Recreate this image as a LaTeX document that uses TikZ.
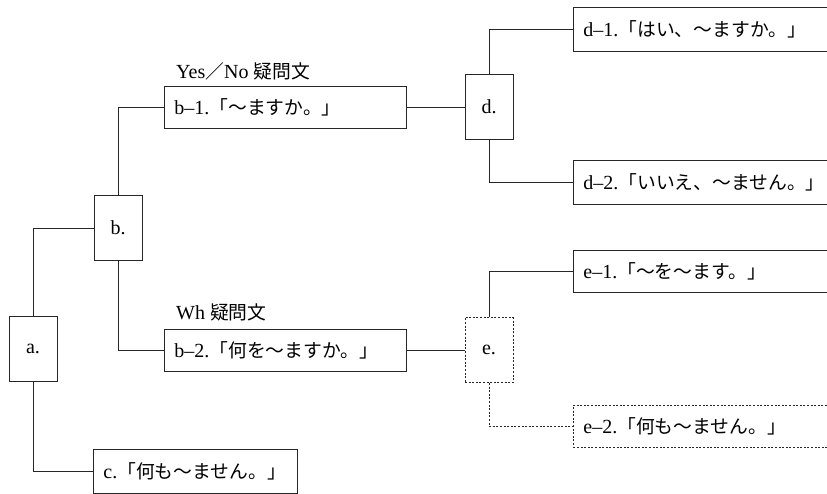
\documentclass[tikz,border=0pt]{standalone}
\usepackage{fontspec}
\setmainfont{Liberation Serif}
\newfontfamily\jp{Noto Sans CJK JP}
\newcommand{\J}[1]{{\jp\fontsize{18.8}{24}\selectfont #1}}
\begin{document}
\begin{tikzpicture}[x=1pt,y=-1pt,
  every node/.style={font=\fontsize{20}{24}\selectfont},
  ln/.style={draw=black!85,line width=0.8pt},
  dsh/.style={ln,dash pattern=on 2pt off 1.6pt},
  sbox/.style={ln,minimum width=48pt,minimum height=65pt,inner sep=0pt},
  wbox/.style={ln,anchor=west,minimum height=42pt,inner xsep=10pt,inner ysep=0pt,align=left},
  lbl/.style={anchor=west,inner sep=0pt}]
\useasboundingbox (0,0) rectangle (827,494);
\clip (0,0) rectangle (827,494);
\node[sbox] (a) at (33,348.5) {a.};
\node[sbox] (b) at (118,228) {b.};
\node[sbox] (d) at (489,107) {d.};
\node[sbox,dsh] (e) at (489,350) {e.};
\node[wbox,text width=222pt] (b1) at (164,107) {b–1.\J{「〜ますか。」}};
\node[wbox,text width=222pt] (b2) at (164,350) {b–2.\J{「何を〜ますか。」}};
\node[wbox,text width=184pt,minimum height=44pt] (c) at (93,471) {c.\J{「何も〜ません。」}};
\node[wbox,text width=300pt,minimum height=44pt] (d1) at (573,29) {d–1.\J{「はい、〜ますか。」}};
\node[wbox,text width=300pt,minimum height=44pt] (d2) at (573,182) {d–2.\J{「いいえ、〜ません。」}};
\node[wbox,text width=300pt] (e1) at (573,271.5) {e–1.\J{「〜を〜ます。」}};
\node[wbox,dsh,text width=300pt] (e2) at (573,426) {e–2.\J{「何も〜ません。」}};
\node[lbl] (lyes) at (176,71) {Yes\J{／}No \J{疑問文}};
\node[lbl] (lwh) at (176,312) {Wh \J{疑問文}};
\draw[ln] (a.north) |- (b.west);
\draw[ln] (a.south) |- (c.west);
\draw[ln] (b.north) |- (b1.west);
\draw[ln] (b.south) |- (b2.west);
\draw[ln] (b1.east) -- (d.west);
\draw[ln] (b2.east) -- (e.west);
\draw[ln] (d.north) |- (d1.west);
\draw[ln] (d.south) |- (d2.west);
\draw[ln] (e.north) |- (e1.west);
\draw[dsh] (e.south) |- (e2.west);
\end{tikzpicture}
\end{document}
